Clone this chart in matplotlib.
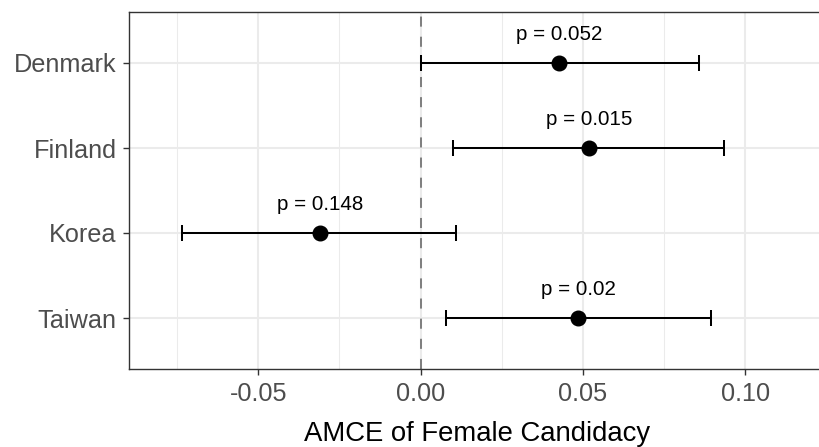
import matplotlib
matplotlib.use("Agg")
import matplotlib.pyplot as plt
from matplotlib.ticker import MultipleLocator

countries = ["Denmark", "Finland", "Korea", "Taiwan"]
estimates = [0.0428, 0.0520, -0.0310, 0.0486]
ci_low = [0.0000, 0.0101, -0.0734, 0.0078]
ci_high = [0.0857, 0.0936, 0.0109, 0.0894]
p_labels = ["p = 0.052", "p = 0.015", "p = 0.148", "p = 0.02"]
x_ticks = [-0.05, 0.00, 0.05, 0.10]
x_tick_labels = ["-0.05", "0.00", "0.05", "0.10"]

plt.rcParams['font.family'] = ['Liberation Sans', 'DejaVu Sans']

fig = plt.figure(figsize=(8.2, 4.47), dpi=100)
left_px, right_px = 129, 826
ax = fig.add_axes([left_px/820, 1 - 369/447, (right_px - left_px)/820, (369 - 12)/447])

n = len(countries)
ypos = [n - i for i in range(n)]

ax.set_xlim(-0.0898, 0.1249)
ax.set_ylim(0.4, n + 0.6)
ax.xaxis.set_minor_locator(MultipleLocator(0.025))
ax.set_xticks(x_ticks)
ax.set_xticklabels(x_tick_labels)
ax.set_yticks(ypos)
ax.set_yticklabels(countries)
ax.grid(which='major', color='#EBEBEB', linewidth=1.5, zorder=0)
ax.grid(which='minor', axis='x', color='#EBEBEB', linewidth=0.75, zorder=0)
ax.set_axisbelow(True)

ax.axvline(0, color='#808080', linewidth=1.45, linestyle=(0, (5, 5)), zorder=1)

xerr = [[e - l for e, l in zip(estimates, ci_low)], [h - e for e, h in zip(estimates, ci_high)]]
ax.errorbar(estimates, ypos, xerr=xerr, fmt='none', ecolor='black', elinewidth=1.45,
            capsize=6.1, capthick=1.45, zorder=3)
ax.plot(estimates, ypos, 'o', color='black', markersize=10.5, zorder=4)

for x, y, lab in zip(estimates, ypos, p_labels):
    ax.text(x, y + 0.34, lab, ha='center', va='center', fontsize=14.8, color='black')

for s in ax.spines.values():
    s.set_color('#333333')
    s.set_linewidth(1.0)

ax.tick_params(axis='both', which='major', length=4.3, width=1.0, color='#333333',
               labelsize=18.2, labelcolor='#4D4D4D')
ax.tick_params(axis='x', which='major', pad=5)
ax.tick_params(axis='y', which='major', pad=4.5)
ax.tick_params(axis='x', which='minor', length=0)
ax.set_xlabel("AMCE of Female Candidacy", fontsize=19.8, color='black', labelpad=11)

fig.savefig("out.png", dpi=100)
